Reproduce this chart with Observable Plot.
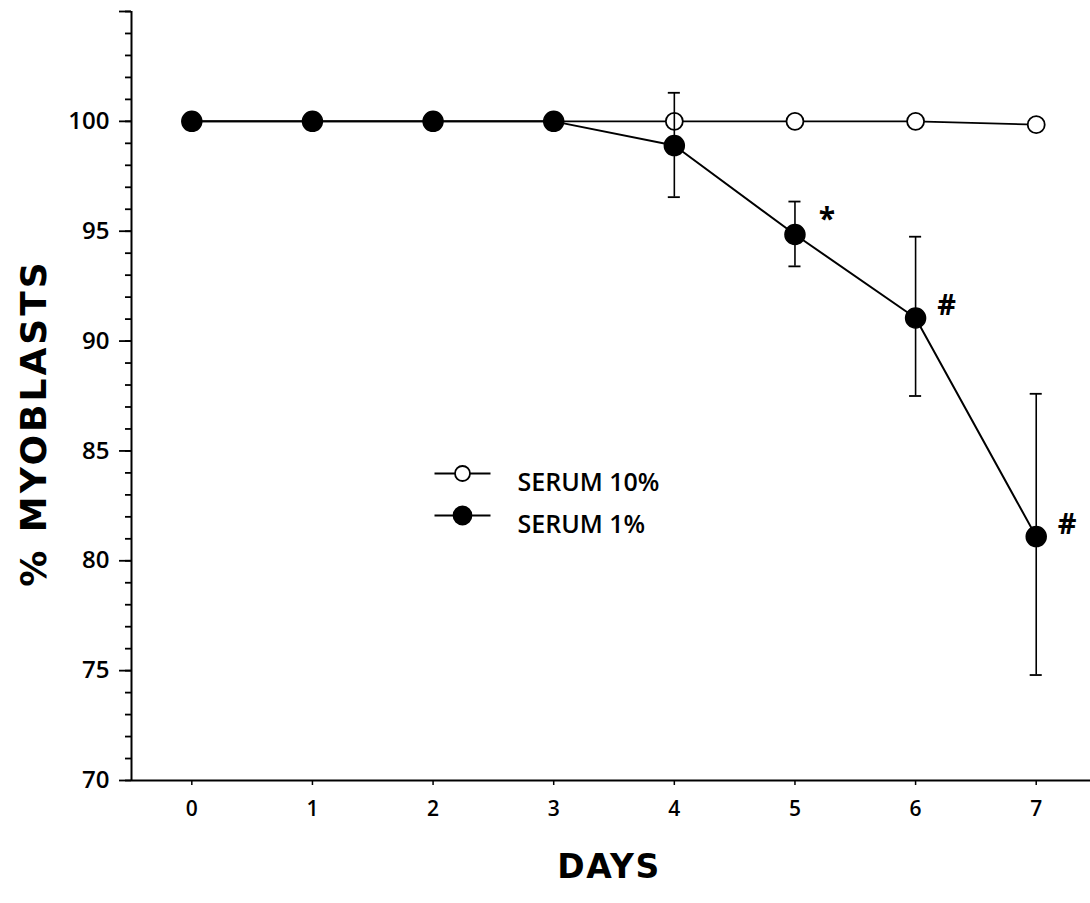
<!DOCTYPE html>
<html>
<head>
<meta charset="utf-8">
<script src="https://cdn.jsdelivr.net/npm/d3@7"></script>
<script src="https://cdn.jsdelivr.net/npm/@observablehq/plot@0.6"></script>
<style>
  html, body { margin: 0; padding: 0; background: #fff; }
  #chart svg { display: block; }
</style>
</head>
<body>
<div id="chart"></div>
<script>
// ---- data ----
const days = [0, 1, 2, 3, 4, 5, 6, 7];
const serum10 = [100, 100, 100, 100, 100, 100, 100, 99.85];
const serum1 = [100, 100, 100, 100, 98.9, 94.85, 91.05, 81.1];
const serum1Lo = [null, null, null, null, 96.55, 93.4, 87.5, 74.8];
const serum1Hi = [null, null, null, null, 101.3, 96.35, 94.75, 87.6];
const significance = ["", "", "", "", "", "*", "#", "#"];
const seriesNames = ["SERUM 10%", "SERUM 1%"];
const xTickValues = [0, 1, 2, 3, 4, 5, 6, 7];
const yMajorTicks = [70, 75, 80, 85, 90, 95, 100, 105];
const yLabelledTicks = [70, 75, 80, 85, 90, 95, 100];
const yMinorTicks = d3.range(70, 106, 1);
const xDomain = [-0.5, 7.45];
const yDomain = [70, 105];
const yTitle = "% MYOBLASTS";
const xTitle = "DAYS";

const table = days.map((d, i) => ({
  day: d, s10: serum10[i], s1: serum1[i], lo: serum1Lo[i], hi: serum1Hi[i], mark: significance[i]
}));
const errs = table.filter(d => d.lo != null);
const legendItems = seriesNames.map((name, i) => ({name, fill: i === 0 ? "white" : "black"}));

// legend symbol: short line on both sides of a circle
function legendSymbol(r) {
  return {
    draw(ctx) {
      ctx.moveTo(-28, 0); ctx.lineTo(-r, 0);
      ctx.moveTo(r, 0); ctx.lineTo(28, 0);
      ctx.moveTo(r, 0); ctx.arc(0, 0, r, 0, 2 * Math.PI);
    }
  };
}

const font = "'Open Sans', 'DejaVu Sans', sans-serif";
const titleFont = "'DejaVu Sans', sans-serif";

const chart = Plot.plot({
  width: 1090,
  height: 903,
  marginLeft: 131,
  marginRight: 0,
  marginTop: 11,
  marginBottom: 123,
  style: {fontFamily: font, fontSize: "21px", fontWeight: 600, color: "black", background: "white"},
  x: {domain: xDomain, axis: null},
  y: {domain: yDomain, axis: null},
  marks: [
    // axes lines
    Plot.ruleX([xDomain[0]], {stroke: "black", strokeWidth: 2}),
    Plot.ruleY([yDomain[0]], {stroke: "black", strokeWidth: 2}),
    Plot.axisY({ticks: yMinorTicks, tickSize: 6, tickFormat: () => "", strokeWidth: 1.8, label: null}),
    Plot.axisY({ticks: yMajorTicks, tickSize: 12, tickFormat: () => "", strokeWidth: 1.8, label: null}),
    Plot.axisX({ticks: xTickValues, tickSize: 5, tickFormat: () => "", strokeWidth: 1.5, label: null}),

    // tick labels
    Plot.text(yLabelledTicks, {y: d => d, text: d => String(d), frameAnchor: "left", dx: -22,
      textAnchor: "end", fontSize: 24, fontWeight: 600, fontFamily: font}),
    Plot.text(xTickValues, {x: d => d, text: d => String(d), frameAnchor: "bottom", dy: 35,
      fontSize: 21, fontWeight: 600, fontFamily: font}),

    // serum 10%
    Plot.line(table, {x: "day", y: "s10", stroke: "black", strokeWidth: 1.6}),
    Plot.dot(table, {x: "day", y: "s10", r: 8.5, fill: "white", stroke: "black", strokeWidth: 1.8}),

    // serum 1% error bars
    Plot.ruleX(errs, {x: "day", y1: "lo", y2: "hi", stroke: "black", strokeWidth: 1.6}),
    Plot.ruleY(errs, {y: "hi", x1: d => d.day - 0.05, x2: d => d.day + 0.05, stroke: "black", strokeWidth: 1.8}),
    Plot.ruleY(errs, {y: "lo", x1: d => d.day - 0.05, x2: d => d.day + 0.05, stroke: "black", strokeWidth: 1.8}),

    // serum 1%
    Plot.line(table, {x: "day", y: "s1", stroke: "black", strokeWidth: 2}),
    Plot.dot(table, {x: "day", y: "s1", r: 10, fill: "black", stroke: "black"}),

    // significance marks
    Plot.text(table.filter(d => d.mark === "*"), {x: "day", y: "s1", text: "mark", dx: 32, dy: -15,
      fontSize: 30, fontWeight: "bold", fontFamily: font}),
    Plot.text(table.filter(d => d.mark === "#"), {x: "day", y: "s1", text: "mark", dx: 31, dy: -12,
      fontSize: 29, fontWeight: "bold", fontFamily: font}),

    // legend
    ...legendItems.map((item, i) => Plot.dot([item], {
      frameAnchor: "top-left", dx: 331, dy: 462 + 42 * i,
      symbol: legendSymbol(i === 0 ? 7.5 : 9), r: 1, fill: "fill", stroke: "black", strokeWidth: 1.8
    })),
    ...legendItems.map((item, i) => Plot.text([item], {
      frameAnchor: "top-left", dx: 386, dy: 462 + 42 * i, text: "name", textAnchor: "start",
      fontSize: 25, fontWeight: 600, fontFamily: font
    })),

    // axis titles
    Plot.text([yTitle], {frameAnchor: "left", dx: -97, dy: 27, rotate: -90, textAnchor: "middle",
      fontSize: 36, fontWeight: "bold", fontFamily: titleFont}),
    Plot.text([xTitle], {frameAnchor: "bottom", dx: -2, dy: 97, textAnchor: "middle",
      fontSize: 33, fontWeight: "bold", fontFamily: titleFont})
  ]
});

const svg = d3.select(chart);
// widen the titles like the reference's wide typeface
svg.selectAll("text")
  .filter(function() { return this.textContent === yTitle; })
  .attr("letter-spacing", "3px");
svg.selectAll("text")
  .filter(function() { return this.textContent === xTitle; })
  .attr("letter-spacing", "1.5px");

document.getElementById("chart").appendChild(chart);
</script>
</body>
</html>
